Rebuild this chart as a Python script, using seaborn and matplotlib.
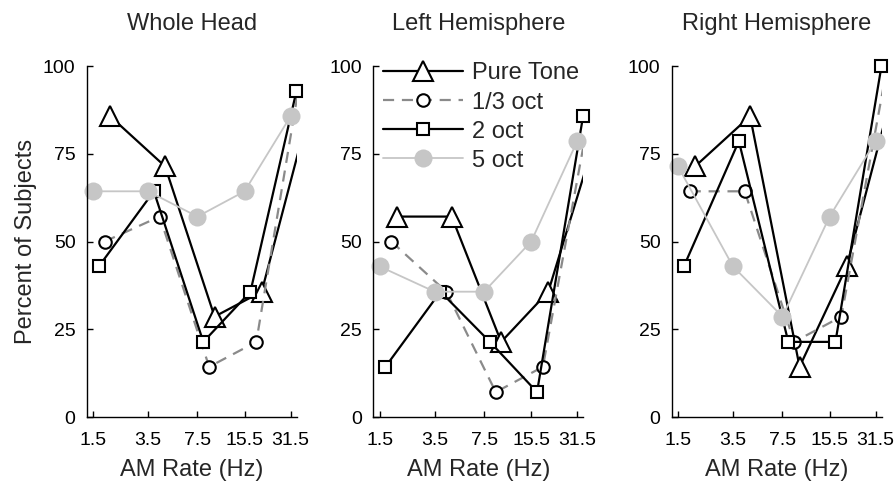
import numpy as np
import pandas as pd
import matplotlib
matplotlib.use("Agg")
import matplotlib.pyplot as plt
import seaborn as sns
from matplotlib.lines import Line2D

# ---------------- data ----------------
rates = [1.5, 3.5, 7.5, 15.5, 31.5]
rate_labels = ["1.5", "3.5", "7.5", "15.5", "31.5"]
panels = ["Whole Head", "Left Hemisphere", "Right Hemisphere"]
series_names = ["Pure Tone", "1/3 oct", "2 oct", "5 oct"]

whole_pure = [85.7, 71.4, 28.6, 35.7, 85.7]
whole_third = [50.0, 57.1, 14.3, 21.4, 100.0]
whole_two = [42.9, 64.3, 21.4, 35.7, 92.9]
whole_five = [64.3, 64.3, 57.1, 64.3, 85.7]

left_pure = [57.1, 57.1, 21.4, 35.7, 78.6]
left_third = [50.0, 35.7, 7.1, 14.3, 85.7]
left_two = [14.3, 35.7, 21.4, 7.1, 85.7]
left_five = [42.9, 35.7, 35.7, 50.0, 78.6]

right_pure = [71.4, 85.7, 14.3, 42.9, 92.9]
right_third = [64.3, 64.3, 21.4, 28.6, 100.0]
right_two = [42.9, 78.6, 21.4, 21.4, 100.0]
right_five = [71.4, 42.9, 28.6, 57.1, 78.6]

panel_data = {
    "Whole Head": [whole_pure, whole_third, whole_two, whole_five],
    "Left Hemisphere": [left_pure, left_third, left_two, left_five],
    "Right Hemisphere": [right_pure, right_third, right_two, right_five],
}

# ---------------- styles ----------------
GRAY_LIGHT = "#c6c6c6"
GRAY_DASH = "#8a8a8a"
styles = {
    "Pure Tone": dict(marker="^", ms=15, mfc="white", mec="black", mew=1.5,
                      color="black", ls="-", lw=1.6, off=0.38),
    "1/3 oct": dict(marker="o", ms=9, mfc="white", mec="black", mew=1.5,
                    color=GRAY_DASH, ls=(0, (5, 3.5)), lw=1.6, off=0.26),
    "2 oct": dict(marker="s", ms=8, mfc="white", mec="black", mew=1.5,
                  color="black", ls="-", lw=1.6, off=0.13),
    "5 oct": dict(marker="o", ms=13, mfc=GRAY_LIGHT, mec=GRAY_LIGHT, mew=0,
                  color=GRAY_LIGHT, ls="-", lw=1.3, off=0.0),
}

sns.set_style("ticks")
plt.rcParams["font.family"] = ["Liberation Sans", "DejaVu Sans"]

fig = plt.figure(figsize=(8.94, 4.86), dpi=100)
W, H = 210 / 894, 351 / 486
B = 69 / 486
lefts = [86.7 / 894, 373.3 / 894, 671.7 / 894]

xmin = rates[0] / 2 ** 0.14
xmax = rates[-1] * 2 ** 0.135

for i, pname in enumerate(panels):
    ax = fig.add_axes([lefts[i], B, W, H])
    ax.set_xscale("log")
    for sname, vals in zip(series_names, panel_data[pname]):
        st = styles[sname]
        xs = np.array(rates) * 2 ** st["off"]
        ys = np.array(vals, dtype=float)
        df = pd.DataFrame({"x": xs, "y": ys})
        sns.lineplot(data=df, x="x", y="y", ax=ax, sort=False, errorbar=None,
                     color=st["color"], linestyle=st["ls"], linewidth=st["lw"],
                     clip_on=True)
        inside = df[df["x"] <= xmax * 1.001]
        sns.lineplot(data=inside, x="x", y="y", ax=ax, sort=False, errorbar=None,
                     linestyle="none", marker=st["marker"], markersize=st["ms"],
                     markerfacecolor=st["mfc"], markeredgecolor=st["mec"],
                     markeredgewidth=st["mew"], color=st["color"], clip_on=False)
    ax.set_xlim(xmin, xmax)
    ax.set_ylim(0, 100)
    ax.xaxis.set_minor_locator(matplotlib.ticker.NullLocator())
    ax.set_xticks(rates)
    ax.set_xticklabels(rate_labels)
    ax.set_yticks([0, 25, 50, 75, 100])
    ax.set_yticklabels(["0", "25", "50", "75", "100"])
    ax.tick_params(direction="in", length=4, width=1, labelsize=14,
                   colors="black")
    ax.tick_params(axis="x", pad=11)
    ax.tick_params(axis="y", pad=8)
    for s in ["top", "right"]:
        ax.spines[s].set_visible(False)
    for s in ["left", "bottom"]:
        ax.spines[s].set_linewidth(1)
        ax.spines[s].set_color("black")
    ax.set_xlabel("AM Rate (Hz)", fontsize=17, labelpad=7)
    ax.set_ylabel("Percent of Subjects" if i == 0 else "", fontsize=17, labelpad=4)
    ax.set_title(pname, fontsize=17, pad=26)

    if i == 1:
        handles = []
        for sname in series_names:
            st = styles[sname]
            handles.append(Line2D([], [], color=st["color"], linestyle=st["ls"],
                                  linewidth=st["lw"], marker=st["marker"],
                                  markersize=st["ms"], markerfacecolor=st["mfc"],
                                  markeredgecolor=st["mec"],
                                  markeredgewidth=st["mew"]))
        ax.legend(handles, series_names, loc="upper left",
                  bbox_to_anchor=(0.045, 1.01), frameon=False, fontsize=17,
                  handlelength=3.4, handletextpad=0.4, labelspacing=0.3,
                  borderpad=0, borderaxespad=0)

fig.savefig("out.png", dpi=100)
